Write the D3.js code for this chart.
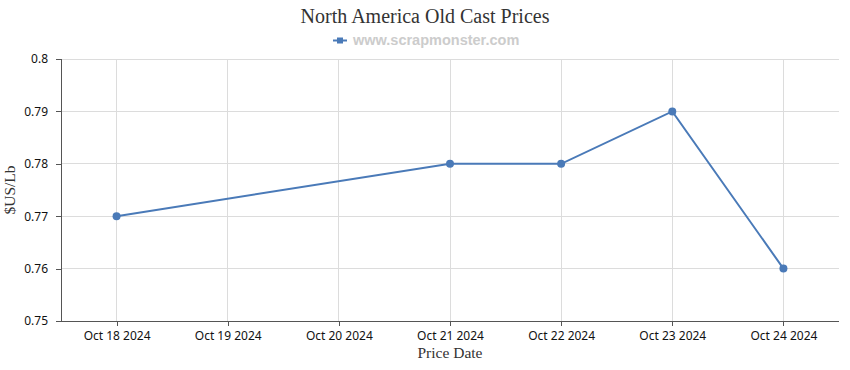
<!DOCTYPE html>
<html><head><meta charset="utf-8">
<script src="https://cdn.jsdelivr.net/npm/d3@7"></script>
<style>
body{margin:0;background:#fff;}
svg{display:block;}
</style></head>
<body>
<svg id="c" width="850" height="370"></svg>
<script>
const categories = ["Oct 18 2024","Oct 19 2024","Oct 20 2024","Oct 21 2024","Oct 22 2024","Oct 23 2024","Oct 24 2024"];
const prices = [0.77, null, null, 0.78, 0.78, 0.79, 0.76];
const yTicks = [0.75, 0.76, 0.77, 0.78, 0.79, 0.8];
const title = "North America Old Cast Prices";
const legendLabel = "www.scrapmonster.com";

const svg = d3.select("#c");
const m = {left:61, right:839, top:59, bottom:321};
const color = "#4a7ab8";
const tickFont = "'Noto Sans', sans-serif";

const x = d3.scalePoint().domain(categories).range([m.left, m.right]).padding(0.5);
const y = d3.scaleLinear().domain([0.75, 0.8]).range([m.bottom, m.top]);

// grid
svg.append("g").selectAll("line").data(yTicks).join("line")
  .attr("x1", m.left).attr("x2", m.right)
  .attr("y1", d=>y(d)).attr("y2", d=>y(d))
  .attr("stroke", "#dcdcdc").attr("stroke-width", 1).attr("shape-rendering","crispEdges");
svg.append("g").selectAll("line").data(categories).join("line")
  .attr("x1", d=>x(d)).attr("x2", d=>x(d))
  .attr("y1", m.top).attr("y2", m.bottom)
  .attr("stroke", "#dcdcdc").attr("stroke-width", 1).attr("shape-rendering","crispEdges");

// axes
const yAxis = svg.append("g").attr("transform", `translate(${m.left},0)`)
  .call(d3.axisLeft(y).tickValues(yTicks).tickSize(5).tickPadding(8).tickFormat(d=>String(+d.toFixed(2))));
const xAxis = svg.append("g").attr("transform", `translate(0,${m.bottom})`)
  .call(d3.axisBottom(x).tickSize(5).tickPadding(5));
[yAxis, xAxis].forEach(a=>{
  a.select(".domain").attr("stroke","#555").attr("shape-rendering","crispEdges");
  a.selectAll(".tick line").attr("stroke","#555").attr("shape-rendering","crispEdges");
  a.selectAll(".tick text").attr("fill","#111").style("font-family", tickFont).style("font-size","12px");
});
xAxis.select(".domain").attr("d", `M${m.left},0.5H${m.right}`);
yAxis.select(".domain").attr("d", `M0.5,${m.top}V${m.bottom}`);

// line
const pts = categories.map((c,i)=>({c, v:prices[i]})).filter(d=>d.v!=null);
svg.append("path").datum(pts)
  .attr("d", d3.line().x(d=>x(d.c)).y(d=>y(d.v)))
  .attr("fill","none").attr("stroke", color).attr("stroke-width", 2);
svg.append("g").selectAll("circle").data(pts).join("circle")
  .attr("cx", d=>x(d.c)).attr("cy", d=>y(d.v)).attr("r", 4)
  .attr("fill", color);

// title
svg.append("text").attr("x", 425).attr("y", 23).attr("text-anchor","middle")
  .style("font-family","'Liberation Serif', serif").style("font-size","20px").attr("fill","#333")
  .text(title);

// legend
const lg = svg.append("g");
lg.append("line").attr("x1",333).attr("x2",347).attr("y1",40.5).attr("y2",40.5).attr("stroke",color).attr("stroke-width",2);
lg.append("rect").attr("x",337).attr("y",37.5).attr("width",6).attr("height",6).attr("fill",color);
lg.append("text").attr("x",353).attr("y",45).style("font-family","'Liberation Sans', sans-serif")
  .style("font-size","14.5px").style("font-weight","bold").attr("fill","#cccccc").text(legendLabel);

// axis titles
svg.append("text").attr("transform","translate(15,190) rotate(-90)").attr("text-anchor","middle")
  .style("font-family","'Liberation Serif', serif").style("font-size","15.5px").attr("fill","#333").text("$US/Lb");
svg.append("text").attr("x", 450).attr("y", 358).attr("text-anchor","middle")
  .style("font-family","'Liberation Serif', serif").style("font-size","15.5px").attr("fill","#333").text("Price Date");
</script>
</body></html>
